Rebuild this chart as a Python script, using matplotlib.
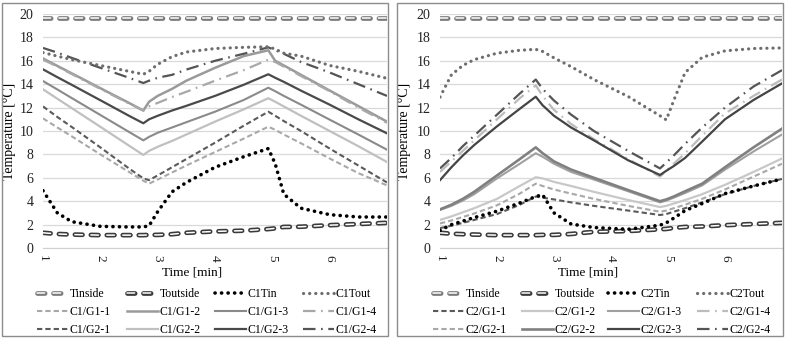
import matplotlib
matplotlib.use("Agg")
import matplotlib.pyplot as plt
import matplotlib.patheffects as pe
from matplotlib.patches import Rectangle
from matplotlib.legend import Legend

plt.rcParams['font.family'] = ['Liberation Serif', 'DejaVu Serif']
plt.rcParams['lines.scale_dashes'] = False

# ---- data: panel C1 ----
t_c1 = [1.0, 1.25, 1.5, 2.0, 2.5, 2.75, 2.85, 3.0, 3.25, 3.5, 4.0, 4.5, 4.93, 5.05, 5.2, 5.5, 6.0, 6.5, 7.0]
tinside_c1 = [19.7, 19.7, 19.7, 19.7, 19.7, 19.7, 19.7, 19.7, 19.7, 19.7, 19.7, 19.7, 19.7, 19.7, 19.7, 19.7, 19.7, 19.7, 19.7]
toutside_c1 = [1.30, 1.20, 1.15, 1.10, 1.10, 1.10, 1.12, 1.12, 1.18, 1.30, 1.42, 1.48, 1.62, 1.68, 1.80, 1.82, 1.95, 2.05, 2.15]
c1_tin = [4.9, 3.0, 2.25, 1.85, 1.8, 1.8, 1.9, 3.1, 4.8, 5.6, 6.9, 7.8, 8.5, 7.2, 4.6, 3.4, 2.85, 2.65, 2.65]
c1_tout = [16.7, 16.4, 16.1, 15.6, 15.1, 14.85, 15.1, 15.7, 16.35, 16.75, 17.05, 17.15, 17.2, 17.0, 16.65, 16.4, 15.6, 15.1, 14.5]
c1_g1_1 = [11.08, 10.3, 9.55, 8.0, 6.5, 5.75, 5.5, 5.85, 6.45, 7.05, 8.2, 9.35, 10.37, 10.1, 9.7, 8.95, 7.65, 6.4, 5.35]
c1_g1_2 = [16.2, 15.56, 14.93, 13.66, 12.4, 11.75, 12.5, 13.0, 13.6, 14.3, 15.4, 16.4, 16.9, 16.0, 15.6, 14.8, 13.46, 12.13, 10.8]
c1_g1_3 = [14.27, 13.55, 12.82, 11.37, 9.92, 9.2, 9.5, 9.85, 10.3, 10.75, 11.65, 12.65, 13.7, 13.4, 13.0, 12.25, 10.97, 9.7, 8.4]
c1_g1_4 = [16.1, 15.5, 14.87, 13.6, 12.35, 11.75, 12.1, 12.4, 12.9, 13.35, 14.3, 15.2, 16.1, 15.9, 15.5, 14.7, 13.4, 12.0, 10.7]
c1_g2_1 = [12.1, 11.2, 10.35, 8.6, 6.8, 5.95, 5.8, 6.2, 6.9, 7.6, 9.0, 10.45, 11.65, 11.3, 10.85, 10.0, 8.5, 7.05, 5.6]
c1_g2_2 = [13.56, 12.76, 11.96, 10.36, 8.75, 7.95, 8.3, 8.65, 9.15, 9.7, 10.8, 11.85, 12.8, 12.5, 12.1, 11.3, 10.0, 8.7, 7.35]
c1_g2_3 = [15.27, 14.6, 13.95, 12.63, 11.3, 10.66, 11.0, 11.3, 11.75, 12.15, 13.0, 13.95, 14.85, 14.55, 14.2, 13.45, 12.25, 11.0, 9.8]
c1_g2_4 = [17.1, 16.7, 16.25, 15.4, 14.55, 14.1, 14.3, 14.55, 14.8, 15.25, 16.0, 16.6, 17.15, 16.9, 16.6, 15.9, 15.0, 14.0, 13.0]

# ---- data: panel C2 ----
t_c2 = [1.0, 1.2, 1.4, 1.6, 2.0, 2.4, 2.68, 2.8, 3.0, 3.3, 3.7, 4.3, 4.86, 4.97, 5.1, 5.3, 5.6, 6.0, 6.5, 7.0]
tinside_c2 = [19.7, 19.7, 19.7, 19.7, 19.7, 19.7, 19.7, 19.7, 19.7, 19.7, 19.7, 19.7, 19.7, 19.7, 19.7, 19.7, 19.7, 19.7, 19.7, 19.7]
toutside_c2 = [1.3, 1.22, 1.18, 1.15, 1.1, 1.1, 1.1, 1.12, 1.12, 1.2, 1.38, 1.45, 1.6, 1.63, 1.72, 1.8, 1.84, 1.95, 2.05, 2.15]
c2_tin = [1.5, 2.0, 2.3, 2.6, 3.15, 3.85, 4.4, 4.55, 3.0, 2.05, 1.75, 1.6, 1.95, 2.15, 2.55, 3.2, 3.8, 4.65, 5.3, 5.9]
c2_tout = [12.9, 14.8, 15.6, 16.1, 16.65, 16.9, 16.98, 16.8, 16.25, 15.5, 14.4, 12.95, 11.3, 10.95, 12.6, 15.0, 16.3, 16.85, 17.05, 17.1]
c2_g1_1 = [1.7, 1.9, 2.15, 2.4, 2.9, 3.7, 4.4, 4.3, 4.15, 3.9, 3.6, 3.2, 2.82, 2.9, 3.1, 3.4, 3.9, 4.6, 5.3, 5.9]
c2_g1_2 = [2.4, 2.7, 3.05, 3.4, 4.2, 5.3, 6.05, 5.95, 5.65, 5.3, 4.8, 4.1, 3.5, 3.6, 3.8, 4.1, 4.6, 5.4, 6.5, 7.65]
c2_g1_3 = [3.25, 3.6, 4.05, 4.6, 5.95, 7.2, 8.1, 7.8, 7.2, 6.5, 5.85, 4.85, 3.9, 4.05, 4.3, 4.7, 5.35, 6.7, 8.25, 9.7]
c2_g1_4 = [6.5, 7.4, 8.3, 9.2, 11.0, 12.8, 13.9, 13.0, 11.8, 10.6, 9.3, 7.6, 6.1, 6.6, 7.2, 8.1, 9.6, 11.5, 13.0, 14.4]
c2_g2_1 = [2.1, 2.35, 2.65, 2.95, 3.65, 4.65, 5.5, 5.3, 5.0, 4.65, 4.2, 3.6, 3.1, 3.2, 3.4, 3.7, 4.2, 5.0, 6.1, 7.2]
c2_g2_2 = [3.3, 3.7, 4.2, 4.8, 6.2, 7.6, 8.6, 8.1, 7.4, 6.7, 6.0, 4.95, 4.0, 4.15, 4.4, 4.85, 5.5, 6.9, 8.6, 10.2]
c2_g2_3 = [5.8, 6.9, 7.9, 8.8, 10.4, 11.9, 12.93, 12.2, 11.3, 10.3, 9.2, 7.5, 6.24, 6.6, 7.0, 7.7, 9.1, 11.0, 12.65, 14.07]
c2_g2_4 = [6.8, 7.7, 8.7, 9.6, 11.4, 13.2, 14.4, 13.6, 12.6, 11.4, 10.0, 8.3, 6.8, 7.3, 7.9, 8.9, 10.3, 12.0, 13.8, 15.2]

x_ticks = [1, 2, 3, 4, 5, 6]
y_ticks = [0, 2, 4, 6, 8, 10, 12, 14, 16, 18, 20]

# line styles
DASH = (0, (3.8, 2.2))
DASHDOT = (0, (9, 4, 1.2, 4))
DOT_BIG = (0, (0.1, 4.6))
DOT_SMALL = (0, (0.1, 4.3))
RING = (0, (5.5, 6))


def ring_line(ax, x, y, edge, label):
    ax.plot(x, y, color='white', lw=1.1, ls=RING, dash_capstyle='round', label=label,
            path_effects=[pe.Stroke(linewidth=3.4, foreground=edge), pe.Normal()])


def draw_panel(ax, t, tin_side, tout_side, tin, tout, g, names, styles, leg_x):
    ring_line(ax, t, tin_side, '#7a7a7a', 'Tinside')
    ring_line(ax, t, tout_side, '#3a3a3a', 'Toutside')
    for vals, name, (col, ls, lw) in zip(g, names[2:], styles):
        ax.plot(t, vals, color=col, ls=ls, lw=lw, label=name)
    ax.plot(t, tin, color='black', ls=DOT_BIG, lw=2.6, dash_capstyle='round', label=names[0])
    ax.plot(t, tout, color='#6e6e6e', ls=DOT_SMALL, lw=2.3, dash_capstyle='round', label=names[1])

    ax.set_xlim(1, 7)
    ax.set_ylim(0, 20)
    ax.set_xticks(x_ticks)
    ax.set_yticks(y_ticks)
    ax.set_xticklabels([str(v) for v in x_ticks], rotation=-90, fontsize=9.5, color='#222')
    ax.set_yticklabels([str(v) for v in y_ticks], fontsize=10, color='#222')
    ax.tick_params(length=0)
    ax.tick_params(axis='y', pad=7)
    ax.tick_params(axis='x', pad=5)
    ax.grid(axis='y', color='#d9d9d9', lw=0.9)
    ax.set_axisbelow(True)
    for s in ['top', 'left', 'right']:
        ax.spines[s].set_visible(False)
    ax.spines['bottom'].set_color('#d0d0d0')
    ax.set_xlabel('Time [min]', fontsize=9.5)
    ax.set_ylabel('Temperature [°C]', fontsize=10)

    # legend laid out like Excel: 4 equal-width columns, filled row by row
    h, l = ax.get_legend_handles_labels()
    lookup = dict(zip(l, h))
    cols = [['Tinside', names[2], names[6]],
            ['Toutside', names[3], names[7]],
            [names[0], names[4], names[8]],
            [names[1], names[5], names[9]]]
    for xc, col in zip(leg_x, cols):
        lg = Legend(ax, [lookup[k] for k in col], col, loc='upper left',
                    bbox_to_anchor=(xc, -0.172), frameon=False, fontsize=8.5,
                    handlelength=2.6, handletextpad=0.15,
                    labelspacing=0.5, borderpad=0, borderaxespad=0)
        ax.add_artist(lg)


fig = plt.figure(figsize=(7.87, 3.38), dpi=100)
W, H = 787, 338
ax1 = fig.add_axes([43 / W, 1 - 248 / H, 344 / W, 234 / H])
ax2 = fig.add_axes([440 / W, 1 - 248 / H, 342 / W, 234 / H])

styles_c1 = [('#a8a8a8', DASH, 1.5), ('#9a9a9a', '-', 1.8), ('#8a8a8a', '-', 1.5), ('#a8a8a8', DASHDOT, 1.6),
             ('#5a5a5a', DASH, 1.5), ('#c0c0c0', '-', 1.6), ('#4a4a4a', '-', 1.6), ('#555555', DASHDOT, 1.6)]
names_c1 = ['C1Tin', 'C1Tout', 'C1/G1-1', 'C1/G1-2', 'C1/G1-3', 'C1/G1-4',
            'C1/G2-1', 'C1/G2-2', 'C1/G2-3', 'C1/G2-4']
draw_panel(ax1, t_c1, tinside_c1, toutside_c1, c1_tin, c1_tout,
           [c1_g1_1, c1_g1_2, c1_g1_3, c1_g1_4, c1_g2_1, c1_g2_2, c1_g2_3, c1_g2_4],
           names_c1, styles_c1, [-0.017, 0.244, 0.5, 0.756])

styles_c2 = [('#5a5a5a', DASH, 1.5), ('#c8c8c8', '-', 1.6), ('#a0a0a0', '-', 1.5), ('#bcbcbc', DASHDOT, 1.6),
             ('#a8a8a8', DASH, 1.5), ('#808080', '-', 1.9), ('#444444', '-', 1.6), ('#555555', DASHDOT, 1.6)]
names_c2 = ['C2Tin', 'C2Tout', 'C2/G1-1', 'C2/G1-2', 'C2/G1-3', 'C2/G1-4',
            'C2/G2-1', 'C2/G2-2', 'C2/G2-3', 'C2/G2-4']
draw_panel(ax2, t_c2, tinside_c2, toutside_c2, c2_tin, c2_tout,
           [c2_g1_1, c2_g1_2, c2_g1_3, c2_g1_4, c2_g2_1, c2_g2_2, c2_g2_3, c2_g2_4],
           names_c2, styles_c2, [-0.020, 0.240, 0.491, 0.751])

ax1.yaxis.set_label_coords(-0.078, 0.5)
ax2.yaxis.set_label_coords(-0.085, 0.5)
ax1.xaxis.set_label_coords(0.433, -0.077)
ax2.xaxis.set_label_coords(0.433, -0.077)

# outer frames around each chart
for x0, x1 in [(2, 388), (397, 783)]:
    fig.patches.append(Rectangle((x0 / W, 1 - 336 / H), (x1 - x0) / W, 333 / H,
                                 transform=fig.transFigure, fill=False,
                                 edgecolor='#8c8c8c', lw=1.0))

fig.savefig('out.png', dpi=100)
